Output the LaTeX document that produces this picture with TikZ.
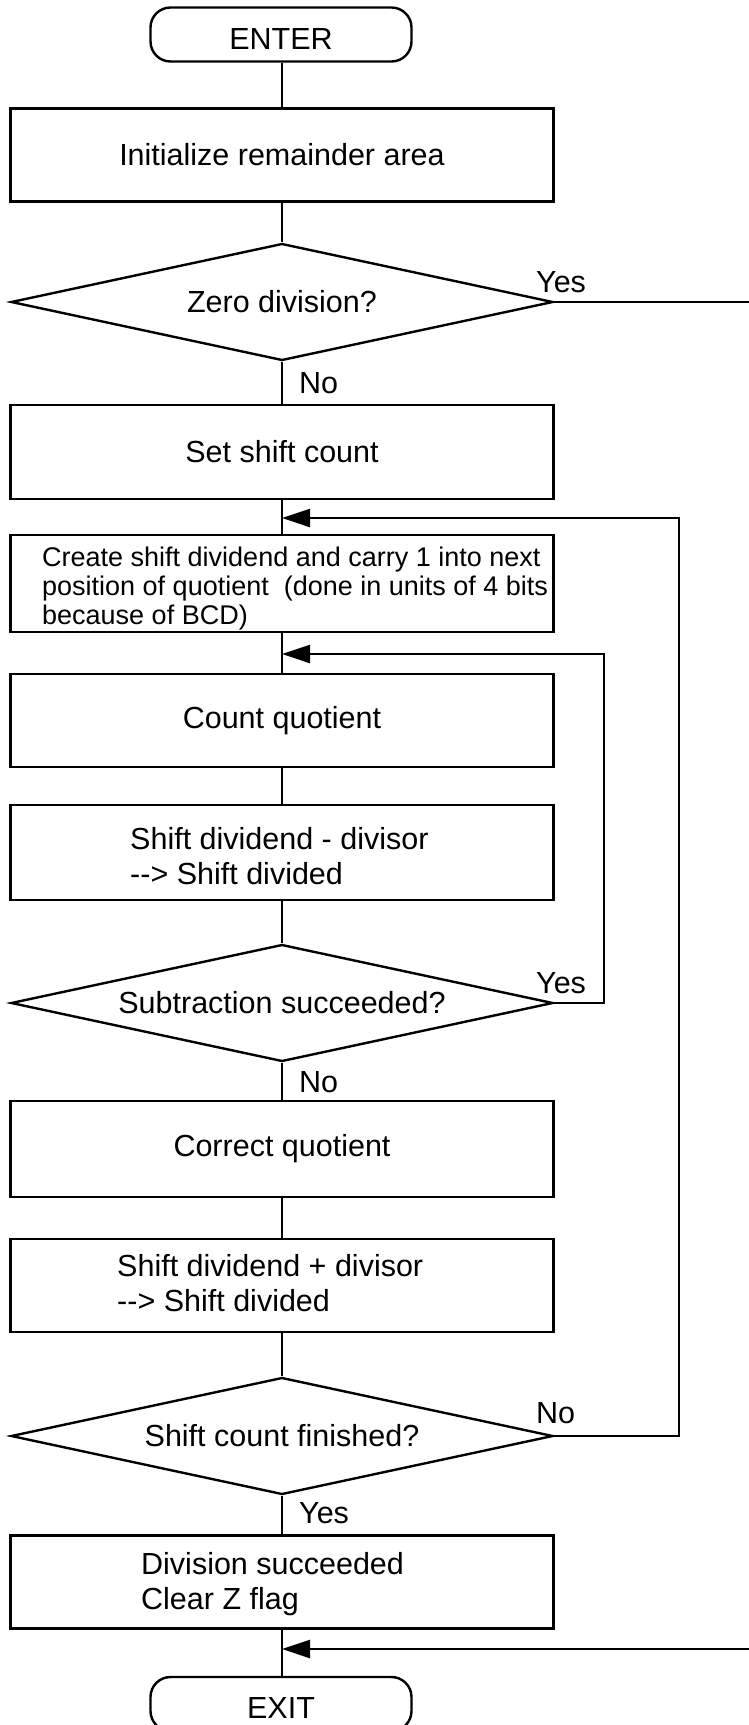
\documentclass[tikz,border=0pt]{standalone}
\usepackage{fontspec}
\setmainfont{Liberation Sans}
\usetikzlibrary{shapes.geometric,arrows.meta}
\begin{document}
\begin{tikzpicture}[x=1pt,y=-1pt,
  every node/.style={font=\fontsize{30.5}{35}\selectfont, inner sep=0pt},
  line/.style={line width=2.4pt},
  proc/.style={draw, line width=2.4pt, minimum width=543pt, minimum height=93pt},
  dec/.style={draw, diamond, aspect=4.63, line width=2.4pt, minimum width=542pt, minimum height=117pt},
  term/.style={draw, rounded corners=20pt, line width=2.4pt, minimum width=261pt, minimum height=54pt,
               text height=29pt, text depth=0pt},
  note/.style={anchor=base west},
  back/.style={line width=2.4pt, -{Triangle[length=28pt,width=18pt]}},
]
\useasboundingbox (0,0) rectangle (749,1725);

% main column
\node[term] (enter) at (281,34.5) {ENTER};
\node[proc] (init) at (282,155) {Initialize remainder area};
\node[dec] (zero) at (282,302) {Zero division?};
\node[proc, minimum height=94pt] (setc) at (282,452) {Set shift count};
\node[proc, minimum height=97pt] (create) at (282,583.5) {};
\node[anchor=west, align=left, font=\fontsize{27}{29}\selectfont] (createtxt) at (42,589)
  {Create shift dividend and carry 1 into next\\position of quotient\ \ (done in units of 4 bits\\because of BCD)};
\node[proc] (count) at (282,720.5) {Count quotient};
\node[proc, minimum height=95pt] (sub) at (282,852.5) {};
\node[anchor=west, align=left] (subtxt) at (130,856.5) {Shift dividend - divisor\\-{}-> Shift divided};
\node[dec] (subok) at (282,1003) {Subtraction succeeded?};
\node[proc, minimum height=96pt] (corr) at (282,1149) {Correct quotient};
\node[proc] (add) at (282,1285.5) {};
\node[anchor=west, align=left] (addtxt) at (117,1283.5) {Shift dividend + divisor\\-{}-> Shift divided};
\node[dec] (fin) at (282,1436) {Shift count finished?};
\node[proc] (done) at (282,1582) {};
\node[anchor=west, align=left] (donetxt) at (141,1584.5) {Division succeeded\\Clear Z flag};
\node[term] (exit) at (281,1704) {EXIT};

% junctions and loop corners
\coordinate (j1) at (282,518);
\coordinate (j2) at (282,654);
\coordinate (j3) at (282,1649);
\coordinate (r1) at (679,518);
\coordinate (r2) at (604,654);
\coordinate (zeroout) at (749,302);
\coordinate (zeroin) at (749,1649);

% spine
\draw[line] (enter.south -| init) -- (init);
\draw[line] (init) -- (zero);
\draw[line] (zero) -- (setc);
\draw[line] (setc) -- (create);
\draw[line] (create) -- (count);
\draw[line] (count) -- (sub);
\draw[line] (sub) -- (subok);
\draw[line] (subok) -- (corr);
\draw[line] (corr) -- (add);
\draw[line] (add) -- (fin);
\draw[line] (fin) -- (done);
\draw[line] (done) -- (exit.north -| done);

% loops and branches
\draw[back] (subok.east) -| (r2) -- (j2);
\draw[back] (fin.east) -| (r1) -- (j1);
\draw[line] (zero.east) -- (zeroout);
\draw[back] (zeroin) -- (j3);

% branch labels
\node[note] (yes1) at (536,292) {Yes};
\node[note] (no1) at (299,393) {No};
\node[note] (yes2) at (536,993) {Yes};
\node[note] (no2) at (299,1092) {No};
\node[note] (no3) at (536,1423) {No};
\node[note] (yes3) at (299,1523) {Yes};
\end{tikzpicture}
\end{document}
